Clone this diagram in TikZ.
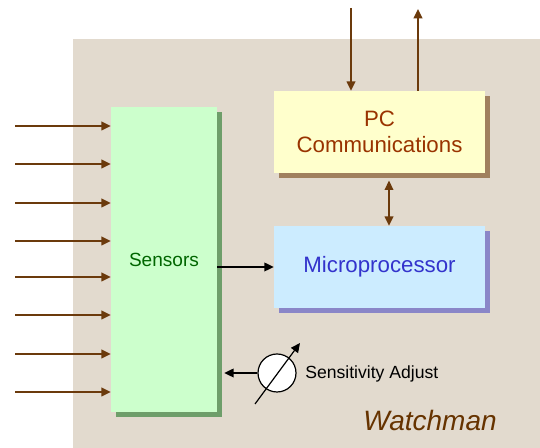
\documentclass[tikz,border=0pt]{standalone}
\usepackage{fontspec}
\setmainfont{Liberation Sans}
\usetikzlibrary{arrows.meta,shadows}
\definecolor{bgc}{HTML}{E2DACE}
\definecolor{arrbrown}{HTML}{6B3A0C}
\definecolor{sensfill}{HTML}{CCFFCC}
\definecolor{sensshadow}{HTML}{6E9E6A}
\definecolor{pcfill}{HTML}{FFFFCC}
\definecolor{pcshadow}{HTML}{A0805E}
\definecolor{mpfill}{HTML}{CCECFF}
\definecolor{mpshadow}{HTML}{8A86C8}
\definecolor{pctext}{HTML}{993300}
\definecolor{mptext}{HTML}{3333CC}
\definecolor{senstext}{HTML}{006600}
\definecolor{wmtext}{HTML}{663300}
\tikzset{
  blockbox/.style={rectangle, inner sep=0pt, align=center, font=\fontsize{16.7}{19}\selectfont},
  brownarrow/.style={draw=arrbrown, line width=1.15pt, -{Triangle[length=7pt,width=6.5pt]}},
  blackarrow/.style={draw=black, line width=1.05pt, -{Triangle[length=7pt,width=6.5pt]}},
}
\begin{document}
\begin{tikzpicture}[x=0.75pt,y=-0.75pt]
\useasboundingbox (0,0) rectangle (540,448);
\fill[bgc] (73,39) rectangle (540,448);

\node[blockbox, fill=sensfill, minimum width=106*0.75pt, minimum height=305*0.75pt,
  general shadow={fill=sensshadow, shadow xshift=3.75pt, shadow yshift=-3.75pt},
  text=senstext, font=\fontsize{14.3}{17}\selectfont] (sens) at (164,259.5) {\raisebox{-1.5pt}{Sensors}};

\node[blockbox, fill=pcfill, minimum width=211*0.75pt, minimum height=82*0.75pt,
  general shadow={fill=pcshadow, shadow xshift=3.75pt, shadow yshift=-3.75pt},
  text=pctext] (pc) at (379.5,132) {PC\\Communications};

\node[blockbox, fill=mpfill, minimum width=211*0.75pt, minimum height=82*0.75pt,
  general shadow={fill=mpshadow, shadow xshift=3.75pt, shadow yshift=-3.75pt},
  text=mptext] (mp) at (379.5,267) {\raisebox{-1.5pt}{Microprocessor}};

% input arrows
\foreach \i/\y in {1/126,2/164,3/203,4/241,5/277,6/315,7/354,8/392}{
  \coordinate (in\i) at (15,\y);
  \draw[brownarrow] (in\i) -- (in\i -| sens.west);
}

% PC top arrows
\coordinate (pcin) at (351,8);
\coordinate (pcout) at (418,9);
\draw[brownarrow] (pcin) -- (pcin |- pc.north);
\draw[brownarrow] (pcout |- pc.north) -- (pcout);

% bidirectional
\coordinate (bx) at (389,200);
\draw[brownarrow, {Triangle[length=7pt,width=6.5pt]}-{Triangle[length=7pt,width=6.5pt]}, shorten <=5.5pt]
  (bx |- pc.south) -- (bx |- mp.north);

% sensors to microprocessor
\draw[blackarrow] (sens.east |- mp.west) -- (mp.west);

% sensitivity adjust
\node[circle, draw=black, line width=0.9pt, fill=white, minimum size=38*0.75pt, inner sep=0pt] (knob) at (277,373) {};
\draw[blackarrow, shorten >=5.25pt] (knob.west) -- (sens.east |- knob.west);
\coordinate (dlo) at (255,404);
\coordinate (dhi) at (300,343);
\draw[draw=black, line width=0.9pt, -{Triangle[length=7pt,width=6.5pt]}] (dlo) -- (dhi);
\node[anchor=west, inner sep=0pt, font=\fontsize{13.2}{15}\selectfont] (sa) at (305,374) {Sensitivity Adjust};

\node[inner sep=0pt, text=wmtext, font=\fontsize{21}{25}\selectfont\itshape] (wm) at (430,420) {Watchman};
\end{tikzpicture}
\end{document}
